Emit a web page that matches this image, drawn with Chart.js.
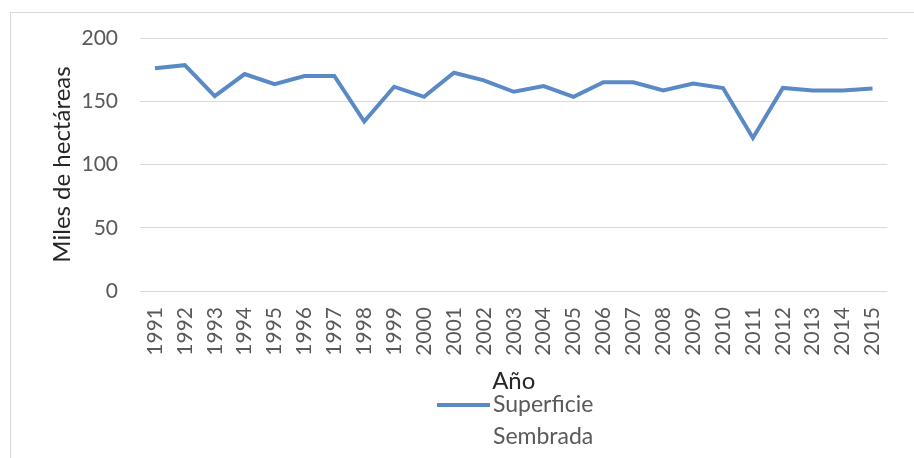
<!DOCTYPE html>
<html>
<head>
<meta charset="utf-8">
<script src="https://cdn.jsdelivr.net/npm/chart.js@4/dist/chart.umd.min.js"></script>
<style>
  html, body { margin: 0; padding: 0; background: #fff; }
  canvas { display: block; }
</style>
</head>
<body>
<canvas id="chart" width="914" height="458"></canvas>
<script>
// data
const years = ['1991', '1992', '1993', '1994', '1995', '1996', '1997', '1998', '1999', '2000',
    '2001', '2002', '2003', '2004', '2005', '2006', '2007', '2008', '2009', '2010',
    '2011', '2012', '2013', '2014', '2015'];
const superficie = [176, 178.5, 154, 171.5, 163.5, 170, 170, 134, 161.5, 153.5,
    172.5, 166.5, 157.5, 162, 153.5, 165, 165, 158.5, 164, 160.5,
    121, 160.5, 158.5, 158.5, 160];
const yTicks = [0, 50, 100, 150, 200];
const seriesLabel = ['Superficie', 'Sembrada'];

const FONT = 'Lato';
const grey = '#595959';

// light frame round the chart, like the Excel chart area
const framePlugin = {
    id: 'frame',
    beforeDraw(chart) {
        const ctx = chart.ctx;
        ctx.save();
        ctx.fillStyle = '#fff';
        ctx.fillRect(0, 0, chart.width, chart.height);
        ctx.strokeStyle = '#d9d9d9';
        ctx.lineWidth = 1;
        ctx.strokeRect(10.5, 12.5, chart.width + 20, chart.height + 20);
        ctx.restore();
    }
};

// legend with the label split on two lines
const legendPlugin = {
    id: 'twoLineLegend',
    afterDraw(chart) {
        const ctx = chart.ctx;
        const ds = chart.data.datasets[0];
        const x = 437, y = 405;
        ctx.save();
        ctx.strokeStyle = ds.borderColor;
        ctx.lineWidth = 4;
        ctx.beginPath();
        ctx.moveTo(x, y);
        ctx.lineTo(x + 53, y);
        ctx.stroke();
        ctx.fillStyle = grey;
        ctx.font = '23px ' + FONT;
        ctx.textBaseline = 'middle';
        ds.label.forEach((line, i) => {
            ctx.fillText(line, x + 56, y + i * 32);
        });
        ctx.restore();
    }
};

new Chart(document.getElementById('chart'), {
    type: 'line',
    data: {
        labels: years,
        datasets: [{
            label: seriesLabel,
            data: superficie,
            borderColor: '#5a8ac6',
            borderWidth: 4,
            pointRadius: 0,
            tension: 0,
            fill: false
        }]
    },
    options: {
        responsive: false,
        animation: false,
        layout: { padding: { left: 0, top: 38, right: 14, bottom: 58 } },
        plugins: {
            legend: { display: false },
            tooltip: { enabled: false }
        },
        scales: {
            x: {
                offset: true,
                grid: { display: false, drawTicks: false },
                border: { display: false },
                ticks: {
                    color: grey,
                    font: { family: FONT, size: 21 },
                    minRotation: 90,
                    maxRotation: 90,
                    autoSkip: false,
                    padding: 16
                },
                title: {
                    display: true,
                    text: 'Año',
                    color: '#262626',
                    font: { family: FONT, size: 24 },
                    padding: { top: 0, bottom: 4 }
                },
                afterFit(scale) { scale.height = 109; }
            },
            y: {
                min: 0,
                max: 200,
                grid: { color: '#d9d9d9', lineWidth: 1, drawTicks: false },
                border: { display: false },
                afterBuildTicks(scale) { scale.ticks = yTicks.map(v => ({ value: v })); },
                ticks: {
                    color: grey,
                    font: { family: FONT, size: 21 },
                    padding: 22
                },
                title: {
                    display: true,
                    text: 'Miles de hectáreas',
                    color: '#262626',
                    font: { family: FONT, size: 24 },
                    padding: { top: 48, bottom: 0 }
                },
                afterFit(scale) { scale.width = 140; }
            }
        }
    },
    plugins: [framePlugin, legendPlugin]
});
</script>
</body>
</html>
